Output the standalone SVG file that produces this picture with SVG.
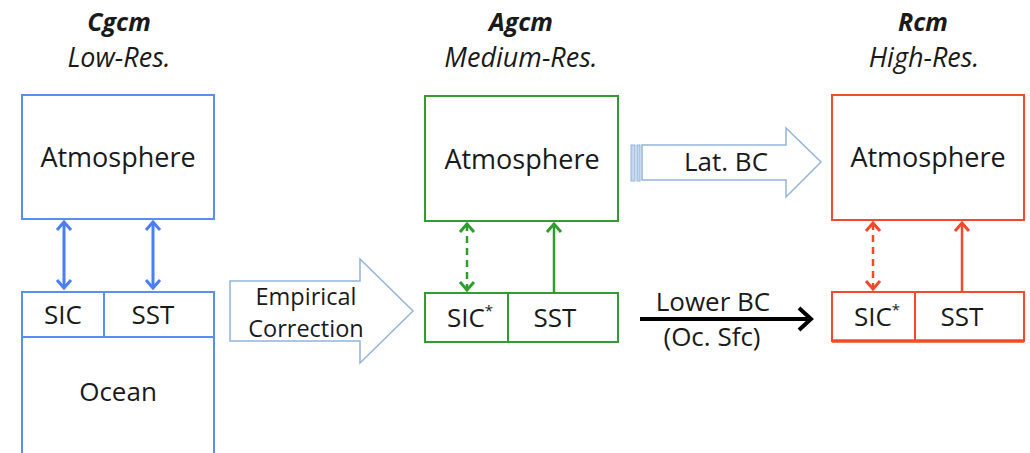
<svg xmlns="http://www.w3.org/2000/svg" width="1030" height="453" viewBox="0 0 1030 453">
<style>
text{font-family:"Open Sans","Liberation Sans",sans-serif;fill:#1a1a1a;text-anchor:middle}
.t{font-size:26px}
.a{font-size:27px}
.ti{font-size:27px;font-style:italic}
.tb{font-size:25px;font-style:italic;font-weight:bold}
.sm{font-size:23.5px}
.blue{fill:#fff;stroke:#5b8ef0;stroke-width:2}
.green{fill:#fff;stroke:#2f9e2f;stroke-width:2}
.red{fill:#fff;stroke:#f24a2b;stroke-width:2}
.fat{fill:#fff;stroke:#93b4dc;stroke-width:1.5}
</style>
<defs>
<marker id="mb" markerUnits="userSpaceOnUse" viewBox="-1 -1 12 18" refX="9" refY="8" markerWidth="12" markerHeight="18" orient="auto-start-reverse"><path d="M1,1 L9,8 L1,15" fill="none" stroke="#4a7ef2" stroke-width="3"/></marker>
<marker id="mg" markerUnits="userSpaceOnUse" viewBox="-1 -1 12 18" refX="9" refY="8" markerWidth="12" markerHeight="18" orient="auto-start-reverse"><path d="M1,1 L9,8 L1,15" fill="none" stroke="#2f9e2f" stroke-width="3"/></marker>
<marker id="mr" markerUnits="userSpaceOnUse" viewBox="-1 -1 12 18" refX="9" refY="8" markerWidth="12" markerHeight="18" orient="auto-start-reverse"><path d="M1,1 L9,8 L1,15" fill="none" stroke="#f24a2b" stroke-width="3"/></marker>
<marker id="mk" markerUnits="userSpaceOnUse" viewBox="-1 -1 17 26" refX="13" refY="12" markerWidth="17" markerHeight="26" orient="auto"><path d="M1,1 L13,12 L1,23" fill="none" stroke="#000" stroke-width="4"/></marker>
</defs>
<rect width="1030" height="453" fill="#fff"/>

<g id="cgcm">
<text class="tb" x="119" y="31">Cgcm</text>
<text class="ti" x="119" y="67">Low-Res.</text>
<g id="cgcm-atm"><rect class="blue" x="22" y="95" width="192" height="124"/><text class="a" x="118" y="167">Atmosphere</text></g>
<g id="cgcm-ocean"><rect class="blue" x="22" y="292" width="192" height="170"/><line x1="22" y1="337" x2="214" y2="337" stroke="#5b8ef0" stroke-width="2"/><line x1="104" y1="292" x2="104" y2="337" stroke="#5b8ef0" stroke-width="2"/>
<text class="t" x="63" y="324">SIC</text><text class="t" x="153" y="324">SST</text><text class="t" x="118" y="401">Ocean</text></g>
</g>

<g id="empirical">
<polygon class="fat" points="230,281 360,281 360,259 413,311 360,363 360,341 230,341"/>
<text class="sm" x="306" y="305">Empirical</text>
<text class="sm" x="306" y="337">Correction</text>
</g>

<g id="agcm">
<text class="tb" x="521" y="31">Agcm</text>
<text class="ti" x="521" y="67">Medium-Res.</text>
<g id="agcm-atm"><rect class="green" x="425" y="96" width="193" height="125"/><text class="a" x="522" y="169">Atmosphere</text></g>
<g id="agcm-sfc"><rect class="green" x="425" y="293" width="193" height="49"/><line x1="508" y1="293" x2="508" y2="342" stroke="#2f9e2f" stroke-width="2"/>
<text class="t" x="470" y="327">SIC<tspan font-size="15" dy="-11">*</tspan></text><text class="t" x="555" y="327">SST</text></g>
</g>

<g id="latbc">
<rect x="631" y="145" width="4" height="36" fill="#c5d7ee" stroke="#93b4dc" stroke-width="1"/>
<rect x="637" y="145" width="3" height="36" fill="#c5d7ee" stroke="#93b4dc" stroke-width="1"/>
<polygon class="fat" points="642,145 786,145 786,128 821,162 786,197 786,180 642,180"/>
<text class="t" x="726" y="171">Lat. BC</text>
</g>

<g id="lowerbc">
<text class="t" x="713" y="311">Lower BC</text>
<text class="t" x="712" y="346">(Oc. Sfc)</text>
</g>

<g id="rcm">
<text class="tb" x="923" y="31">Rcm</text>
<text class="ti" x="924" y="67">High-Res.</text>
<g id="rcm-atm"><rect class="red" x="832" y="95" width="192" height="125"/><text class="a" x="928" y="167">Atmosphere</text></g>
<g id="rcm-sfc"><rect class="red" x="832" y="292" width="192" height="49"/><line x1="915" y1="292" x2="915" y2="341" stroke="#f24a2b" stroke-width="2"/><line x1="832" y1="341" x2="1024" y2="341" stroke="#f24a2b" stroke-width="3.5"/>
<text class="t" x="877" y="326">SIC<tspan font-size="15" dy="-11">*</tspan></text><text class="t" x="962" y="326">SST</text></g>
</g>

<g id="connectors" fill="none">
<line x1="64" y1="222" x2="64" y2="288" stroke="#4a7ef2" stroke-width="3" marker-start="url(#mb)" marker-end="url(#mb)"/>
<line x1="153" y1="222" x2="153" y2="288" stroke="#4a7ef2" stroke-width="3" marker-start="url(#mb)" marker-end="url(#mb)"/>
<line x1="467" y1="224" x2="467" y2="290" stroke="#2f9e2f" stroke-width="2.5" stroke-dasharray="7,5" marker-start="url(#mg)" marker-end="url(#mg)"/>
<line x1="554" y1="293" x2="554" y2="224" stroke="#2f9e2f" stroke-width="2.5" marker-end="url(#mg)"/>
<line x1="873" y1="223" x2="873" y2="289" stroke="#f24a2b" stroke-width="2.5" stroke-dasharray="7,5" marker-start="url(#mr)" marker-end="url(#mr)"/>
<line x1="962" y1="292" x2="962" y2="223" stroke="#f24a2b" stroke-width="2.5" marker-end="url(#mr)"/>
<line x1="640" y1="319" x2="811" y2="319" stroke="#000" stroke-width="4" marker-end="url(#mk)"/>
</g>
</svg>
